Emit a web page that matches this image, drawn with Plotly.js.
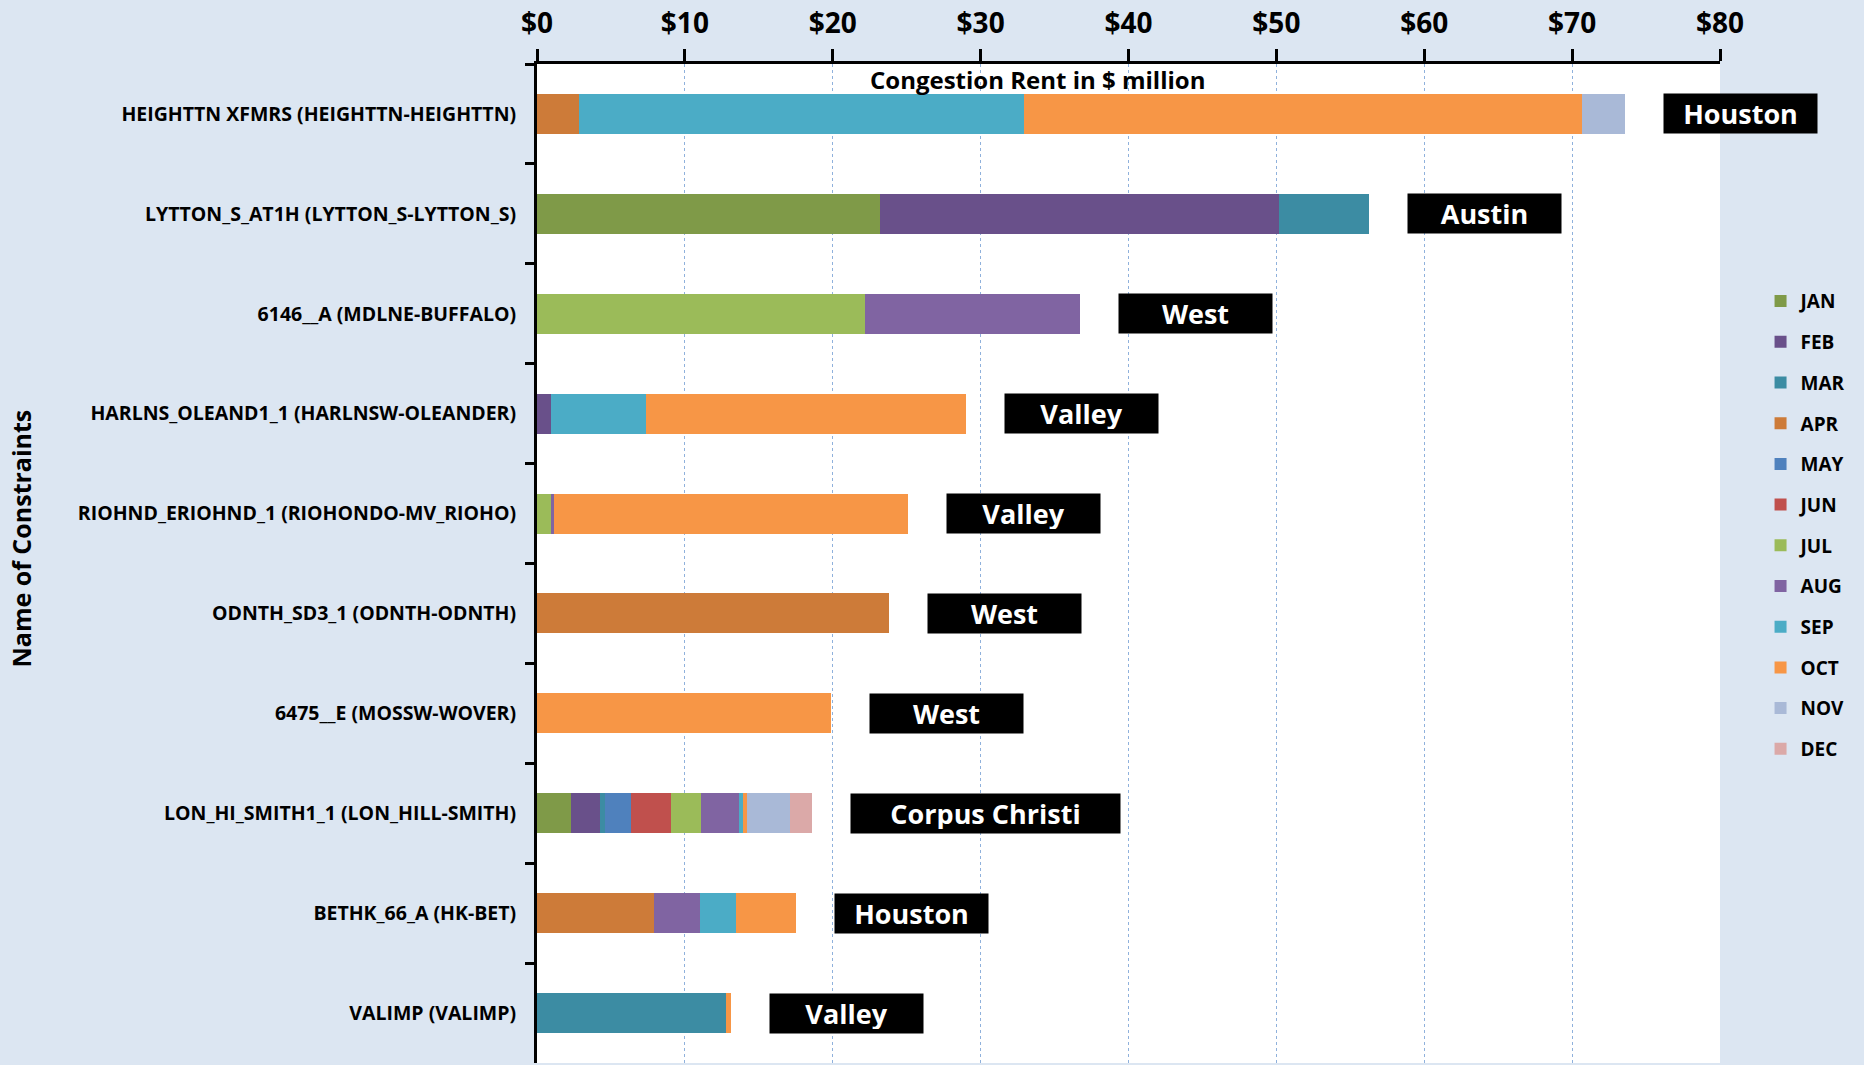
<!DOCTYPE html>
<html>
<head>
<meta charset="utf-8">
<script src="https://cdn.plot.ly/plotly-3.0.1.min.js"></script>
<style>
  body { margin: 0; background: #dce6f2; }
  #graphDiv { width: 1864px; height: 1065px; }
</style>
</head>
<body>
<div id="graphDiv"></div>
<script>
// Constraints, top to bottom
let constraints = [
    "HEIGHTTN XFMRS (HEIGHTTN-HEIGHTTN)",
    "LYTTON_S_AT1H (LYTTON_S-LYTTON_S)",
    "6146__A (MDLNE-BUFFALO)",
    "HARLNS_OLEAND1_1 (HARLNSW-OLEANDER)",
    "RIOHND_ERIOHND_1 (RIOHONDO-MV_RIOHO)",
    "ODNTH_SD3_1 (ODNTH-ODNTH)",
    "6475__E (MOSSW-WOVER)",
    "LON_HI_SMITH1_1 (LON_HILL-SMITH)",
    "BETHK_66_A (HK-BET)",
    "VALIMP (VALIMP)"
];
let regions = ["Houston", "Austin", "West", "Valley", "Valley", "West", "West", "Corpus Christi", "Houston", "Valley"];
let months = ["JAN", "FEB", "MAR", "APR", "MAY", "JUN", "JUL", "AUG", "SEP", "OCT", "NOV", "DEC"];

// Congestion rent ($ million) by month, one value per constraint
let jan = [0, 23.2, 0, 0, 0, 0, 0, 2.31, 0, 0];
let feb = [0, 26.95, 0, 0.95, 0, 0, 0, 1.96, 0, 0];
let mar = [0, 6.1, 0, 0, 0, 0, 0, 0.36, 0, 12.8];
let apr = [2.85, 0, 0, 0, 0, 23.83, 0, 0, 7.89, 0];
let may = [0, 0, 0, 0, 0, 0, 0, 1.73, 0, 0];
let jun = [0, 0, 0, 0, 0, 0, 0, 2.69, 0, 0];
let jul = [0, 0, 22.2, 0, 0.95, 0, 0, 2.07, 0, 0];
let aug = [0, 0, 14.55, 0, 0.22, 0, 0, 2.56, 3.1, 0];
let sep = [30.05, 0, 0, 6.4, 0, 0, 0, 0.28, 2.48, 0];
let oct = [37.75, 0, 0, 21.67, 23.93, 0, 19.89, 0.26, 4.06, 0.31];
let nov = [2.95, 0, 0, 0, 0, 0, 0, 2.9, 0, 0];
let dec = [0, 0, 0, 0, 0, 0, 0, 1.49, 0, 0];

let xTicks = [0, 10, 20, 30, 40, 50, 60, 70, 80];

let colores = ["#7f9a48", "#69508a", "#3c8ca3", "#cd7b39", "#4f81bd", "#c0504d",
    "#9bbb59", "#8064a2", "#4bacc6", "#f79646", "#a9b9d7", "#dba9a8"];

let fuente = "'Open Sans', 'Noto Sans', sans-serif";

function graficar() {
    let series = [jan, feb, mar, apr, may, jun, jul, aug, sep, oct, nov, dec];
    let data = [];
    for (let i = 0; i < months.length; i++) {
        data.push({
            type: 'bar',
            orientation: 'h',
            name: months[i],
            legendgroup: months[i],
            x: series[i],
            y: constraints,
            marker: { color: colores[i] },
            hoverinfo: 'x+name'
        });
    }

    // etiquetas del eje x con signo de dolar
    let xLabels = [];
    for (let i = 0; i < xTicks.length; i++) {
        xLabels.push('$' + xTicks[i]);
    }

    // Region boxes to the right of each bar
    let anotaciones = [];
    for (let j = 0; j < constraints.length; j++) {
        let total = 0;
        for (let i = 0; i < series.length; i++) {
            total += series[i][j];
        }
        anotaciones.push({
            x: total,
            y: constraints[j],
            xref: 'x',
            yref: 'y',
            xanchor: 'left',
            xshift: 38,
            text: regions[j],
            showarrow: false,
            bgcolor: '#000000',
            width: regions[j].length > 8 ? 261 : 145,
            height: 31,
            borderpad: 4,
            align: 'center',
            font: { family: fuente, size: 27, color: '#ffffff', weight: 'bold' }
        });
    }
    // Axis title sits inside the plot, under the top axis
    anotaciones.push({
        x: 0.423,
        y: 0.984,
        xref: 'paper',
        yref: 'paper',
        yanchor: 'middle',
        text: 'Congestion Rent in $ million',
        showarrow: false,
        font: { family: fuente, size: 24, color: '#000000', weight: 'bold' }
    });
    // Titulo del eje y (a mano, pegado al borde izquierdo)
    anotaciones.push({
        x: (21 - 537) / 1183,
        y: 0.525,
        xref: 'paper',
        yref: 'paper',
        xanchor: 'center',
        yanchor: 'middle',
        textangle: -90,
        text: 'Name of Constraints',
        showarrow: false,
        font: { family: fuente, size: 25, color: '#000000', weight: 'bold' }
    });

    let layout = {
        width: 1864,
        height: 1065,
        paper_bgcolor: '#dce6f2',
        plot_bgcolor: '#ffffff',
        barmode: 'stack',
        bargap: 0.6,
        margin: { l: 537, r: 144, t: 64, b: 2 },
        font: { family: fuente, color: '#000000' },
        xaxis: {
            side: 'top',
            range: [0, 80],
            tickmode: 'array',
            tickvals: xTicks,
            ticktext: xLabels,
            ticks: 'outside',
            ticklen: 12,
            tickwidth: 3,
            tickcolor: '#000000',
            ticklabelstandoff: 5,
            showline: true,
            linewidth: 3,
            linecolor: '#000000',
            showgrid: true,
            gridcolor: '#8fb1dc',
            griddash: 'dot',
            gridwidth: 1,
            zeroline: false,
            tickfont: { family: fuente, size: 28, weight: 'bold' }
        },
        yaxis: {
            type: 'category',
            autorange: 'reversed',
            ticks: 'outside',
            tickson: 'boundaries',
            ticklen: 9,
            tickwidth: 3,
            tickcolor: '#000000',
            showline: true,
            linewidth: 3,
            linecolor: '#000000',
            showgrid: false,
            ticklabelstandoff: 14,
            tickfont: { family: fuente, size: 19.5, weight: 'bold' }
        },
        legend: {
            xref: 'container',
            yref: 'container',
            x: 0.9445,
            y: 0.735,
            xanchor: 'left',
            yanchor: 'top',
            traceorder: 'grouped',
            tracegroupgap: 13,
            bgcolor: 'rgba(0,0,0,0)',
            font: { family: fuente, size: 19, weight: 'bold' }
        },
        annotations: anotaciones,
        showlegend: true
    };

    Plotly.newPlot('graphDiv', data, layout, { displayModeBar: false });
}

graficar();
</script>
</body>
</html>
